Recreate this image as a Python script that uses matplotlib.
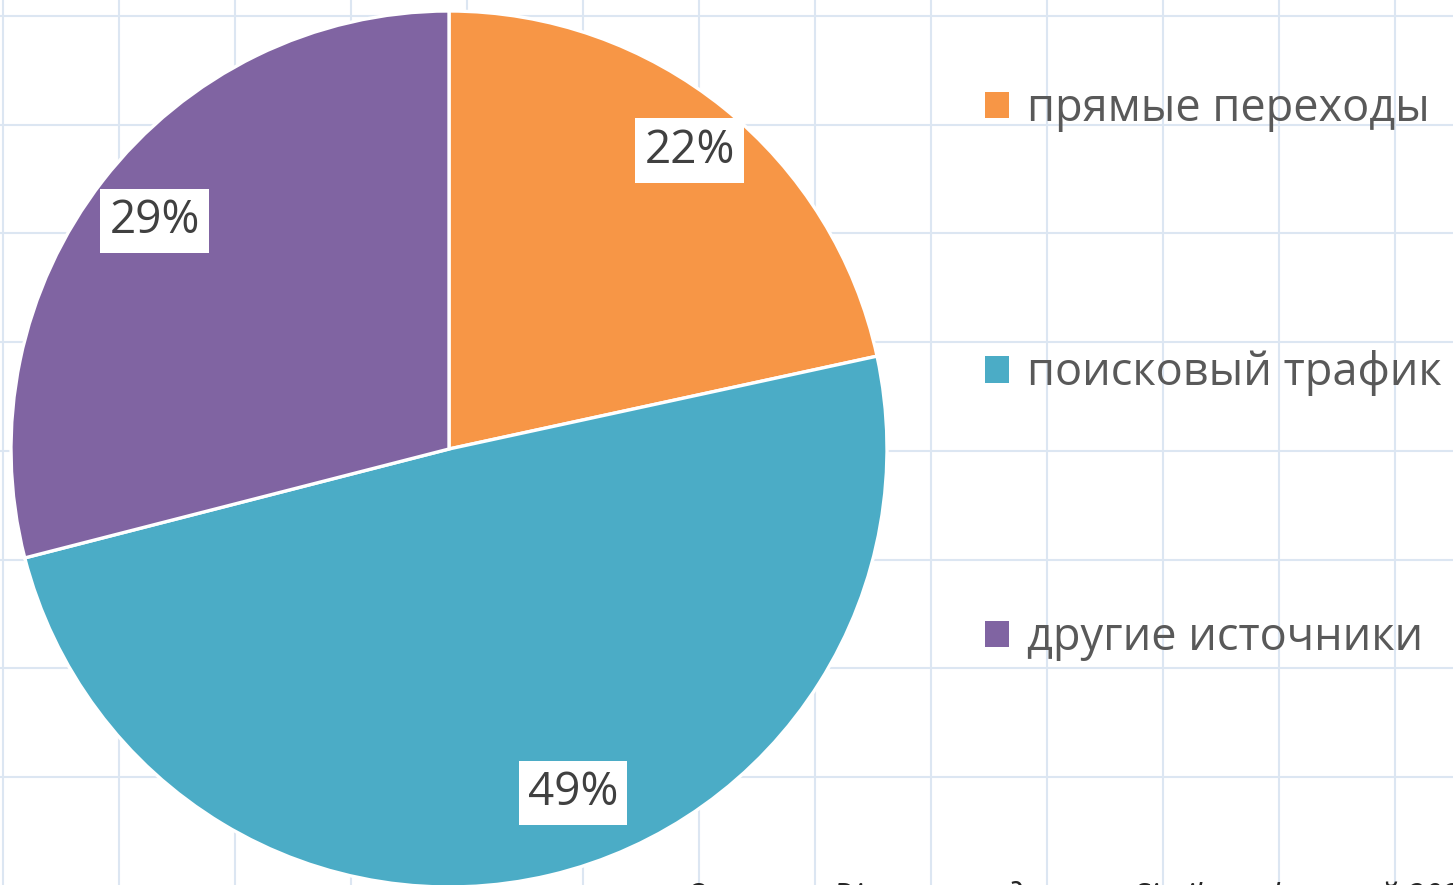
import matplotlib.pyplot as plt
import numpy as np
from matplotlib.patches import Patch

# Data
categories = ["прямые переходы", "поисковый трафик", "другие источники"]
shares = [21.6, 49.4, 29.0]
colors = ["#F79646", "#4BACC6", "#8064A2"]
source_note = "Отчет о Dinamo, по данным Similarweb за май 2020"

W, H = 1453, 885
plt.rcParams["font.family"] = ["Open Sans", "DejaVu Sans"]

fig = plt.figure(figsize=(W / 100, H / 100), dpi=100)

# Background grid (pixel coordinates)
bg = fig.add_axes([0, 0, 1, 1])
bg.set_xlim(0, W)
bg.set_ylim(H, 0)
bg.axis("off")
for x in np.arange(3, W, 116.0):
    bg.axvline(x, color="#DCE6F2", lw=1.5, zorder=0)
for y in np.arange(16, H, 108.7):
    bg.axhline(y, color="#DCE6F2", lw=1.5, zorder=0)

# Pie: center (449, 449) px, radius 438 px
cx, cy, r = 449, 449, 438
ax = fig.add_axes([(cx - r) / W, (H - cy - r) / H, 2 * r / W, 2 * r / H])

wedges, _ = ax.pie(
    shares,
    colors=colors,
    startangle=90,
    counterclock=False,
    radius=1,
    wedgeprops=dict(edgecolor="white", linewidth=2.4),
)
ax.set_xlim(-1, 1)
ax.set_ylim(-1, 1)
ax.set_aspect("equal")
ax.axis("off")

# Percentage labels (Excel "best fit" placement)
label_r = [0.875, 0.835, 0.85]
label_shift = [0.0, 6.5, 0.0]
for w, val, lr, sh in zip(wedges, shares, label_r, label_shift):
    ang = np.deg2rad((w.theta1 + w.theta2) / 2 + sh)
    ax.text(
        lr * np.cos(ang), lr * np.sin(ang), f"{val:.0f}%",
        ha="center", va="center", fontsize=33, color="#404040",
        bbox=dict(facecolor="white", edgecolor="none", boxstyle="square,pad=0.2"),
    )

# Legend
handles = [Patch(facecolor=c, edgecolor="none") for c in colors]
fig.legend(
    handles, categories,
    loc="upper left", bbox_to_anchor=(985 / W, 1 - 86 / H),
    frameon=False, fontsize=32.5, labelcolor="#595959",
    handlelength=0.53, handleheight=0.53, handletextpad=0.4,
    labelspacing=4.84, borderpad=0, borderaxespad=0,
)

# Source note (cut off by the bottom edge)
fig.text(685 / W, (H - 907) / H, source_note, fontsize=23, style="italic",
         color="#262626", ha="left", va="baseline")

fig.savefig("out.png", dpi=100)
